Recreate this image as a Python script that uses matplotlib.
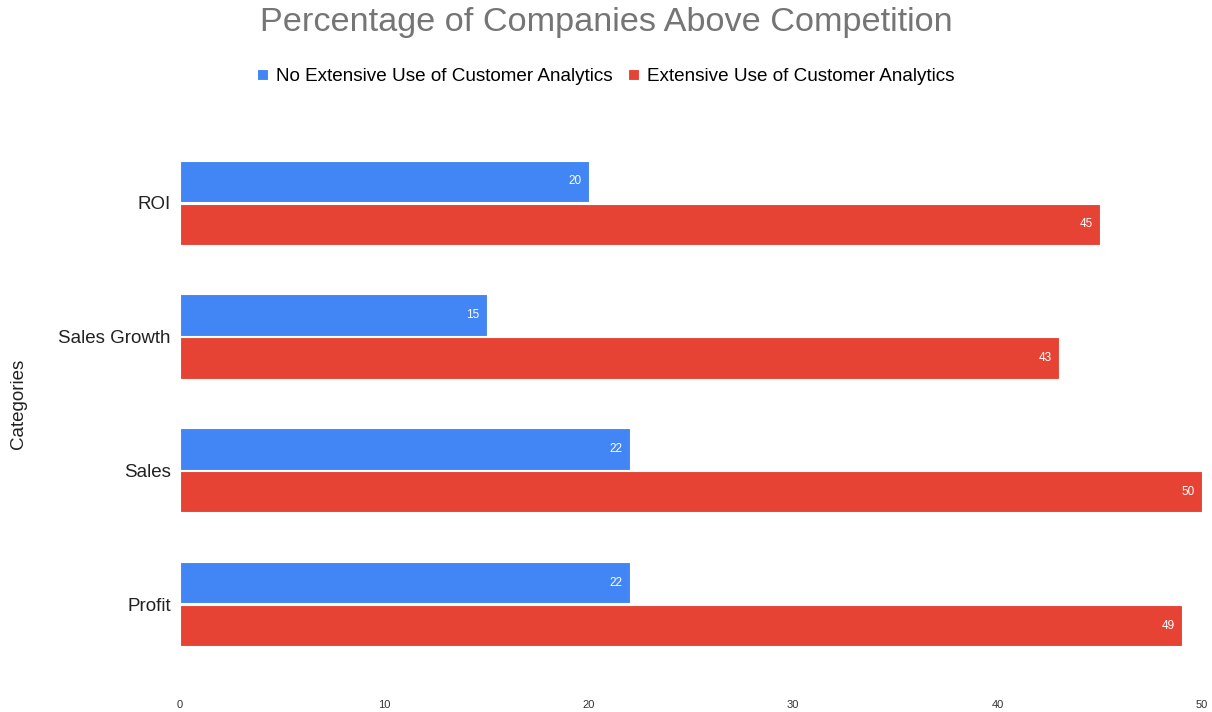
import matplotlib.pyplot as plt
import numpy as np

plt.rcParams['font.family'] = ['Liberation Sans', 'DejaVu Sans']

categories = ['Profit', 'Sales', 'Sales Growth', 'ROI']
no_extensive = [22, 22, 15, 20]
extensive = [49, 50, 43, 45]
series_names = ['No Extensive Use of Customer Analytics',
                'Extensive Use of Customer Analytics']
xticks = [0, 10, 20, 30, 40, 50]

blue = '#4285F4'
red = '#E64334'

fig = plt.figure(figsize=(12.12, 7.12), dpi=100)
ax = fig.add_axes([0.1485, 0.0576, 0.8432, 0.7514])

y = np.arange(len(categories))
h = 0.31
b1 = ax.barh(y + 0.16, no_extensive, height=h, color=blue, edgecolor='white',
             linewidth=0.8, label=series_names[0])
b2 = ax.barh(y - 0.16, extensive, height=h, color=red, edgecolor='white',
             linewidth=0.8, label=series_names[1])

for bars, vals in ((b1, no_extensive), (b2, extensive)):
    for bar, v in zip(bars, vals):
        ax.annotate(str(v), (v, bar.get_y() + bar.get_height() / 2),
                    xytext=(-5, 0), textcoords='offset points',
                    ha='right', va='center', color='white', fontsize=8.5)

ax.set_xlim(0, 50)
ax.set_ylim(-0.5, 3.5)
ax.set_xticks(xticks)
ax.set_yticks(y)
ax.set_yticklabels(categories, fontsize=13.5, color='#222222')
ax.tick_params(axis='x', length=0, pad=21, labelsize=8, labelcolor='#333333')
ax.tick_params(axis='y', length=0, pad=6.5)
for s in ax.spines.values():
    s.set_visible(False)

ax.set_ylabel('Categories', fontsize=13.5, color='#222222')
ax.yaxis.set_label_coords(-0.15, 0.5)

fig.suptitle('Percentage of Companies Above Competition', fontsize=24.7,
             color='#757575', y=0.969, va='center')
fig.legend(loc='center', bbox_to_anchor=(0.5, 0.892), ncol=2, frameon=False,
           fontsize=13.6, handlelength=0.55, handleheight=0.55,
           handletextpad=0.45, columnspacing=0.8)

fig.savefig('out.png', dpi=100)
